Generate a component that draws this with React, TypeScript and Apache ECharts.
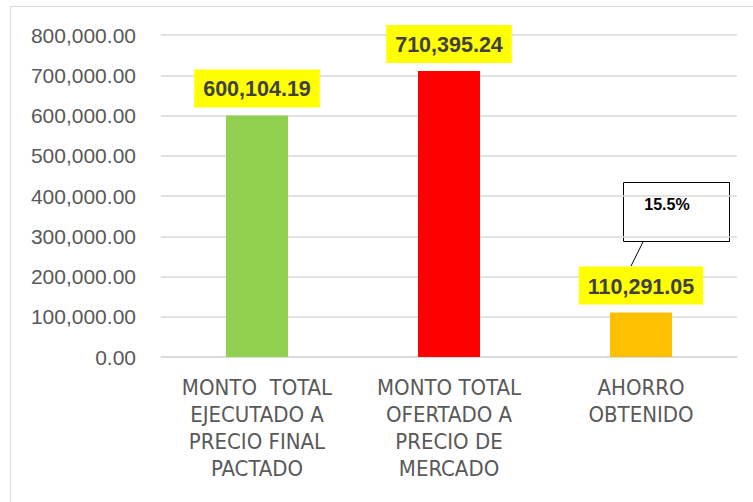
import React, { useEffect, useRef } from "react";
import * as echarts from "echarts";

const categories = [
  "MONTO  TOTAL\nEJECUTADO A\nPRECIO FINAL\nPACTADO",
  "MONTO TOTAL\nOFERTADO A\nPRECIO DE\nMERCADO",
  "AHORRO\nOBTENIDO",
];
const values = [600104.19, 710395.24, 110291.05];
const barColors = ["#92D050", "#FF0000", "#FFC000"];
const savingsPct = "15.5%";

const fmt = (v: number) =>
  v.toLocaleString("en-US", { minimumFractionDigits: 2, maximumFractionDigits: 2 });

export default function App() {
  const ref = useRef<HTMLDivElement>(null);
  useEffect(() => {
    document.body.style.margin = "0";
    const chart = echarts.init(ref.current!, null, { renderer: "svg" });
    const font = "'Liberation Sans Narrow', 'DejaVu Sans Condensed', sans-serif";
    chart.setOption({
      animation: false,
      backgroundColor: "#ffffff",
      grid: { left: 161, right: 16, top: 35, bottom: 145, containLabel: false },
      xAxis: {
        type: "category",
        data: categories,
        axisLine: { lineStyle: { color: "#d9d9d9", width: 1.5 } },
        axisTick: { show: false },
        axisLabel: {
          color: "#595959",
          fontSize: 22,
          fontFamily: font,
          lineHeight: 27,
          margin: 17,
          interval: 0,
        },
      },
      yAxis: {
        type: "value",
        min: 0,
        max: 800000,
        interval: 100000,
        axisLine: { show: false },
        axisTick: { show: false },
        splitLine: { lineStyle: { color: "#d9d9d9", width: 1.5 } },
        axisLabel: {
          color: "#595959",
          fontSize: 21,
          fontFamily: "'Liberation Sans', sans-serif",
          margin: 25,
          formatter: (v: number) => fmt(v),
        },
      },
      series: [
        {
          type: "bar",
          barWidth: 62,
          data: values.map((v, i) => ({ value: v, itemStyle: { color: barColors[i] } })),
          label: {
            show: true,
            position: "top",
            distance: 8,
            formatter: (p: any) => fmt(p.value),
            backgroundColor: "#FFFF00",
            color: "#404040",
            fontWeight: "bold",
            fontSize: 21.5,
            fontFamily: "'Liberation Sans', sans-serif",
            padding: [9, 9, 7, 9],
          },
        },
      ],
      graphic: [
        {
          type: "rect",
          shape: { x: 10.5, y: 6.5, width: 800, height: 600 },
          style: { fill: "none", stroke: "#d9d9d9", lineWidth: 1 },
          silent: true,
        },
        {
          type: "line",
          shape: { x1: 643, y1: 242, x2: 631, y2: 266 },
          style: { stroke: "#000000", lineWidth: 1 },
        },
        {
          type: "rect",
          shape: { x: 623.5, y: 182.5, width: 106, height: 59 },
          style: { fill: "#ffffff", stroke: "#000000", lineWidth: 1 },
        },
        {
          type: "text",
          x: 667,
          y: 204,
          style: {
            text: savingsPct,
            fill: "#000000",
            fontSize: 16,
            fontWeight: "bold",
            fontFamily: "'Liberation Sans', sans-serif",
            align: "center",
            verticalAlign: "middle",
          },
        },
      ],
    });
    return () => chart.dispose();
  }, []);
  return <div ref={ref} style={{ width: 753, height: 502 }} />;
}
